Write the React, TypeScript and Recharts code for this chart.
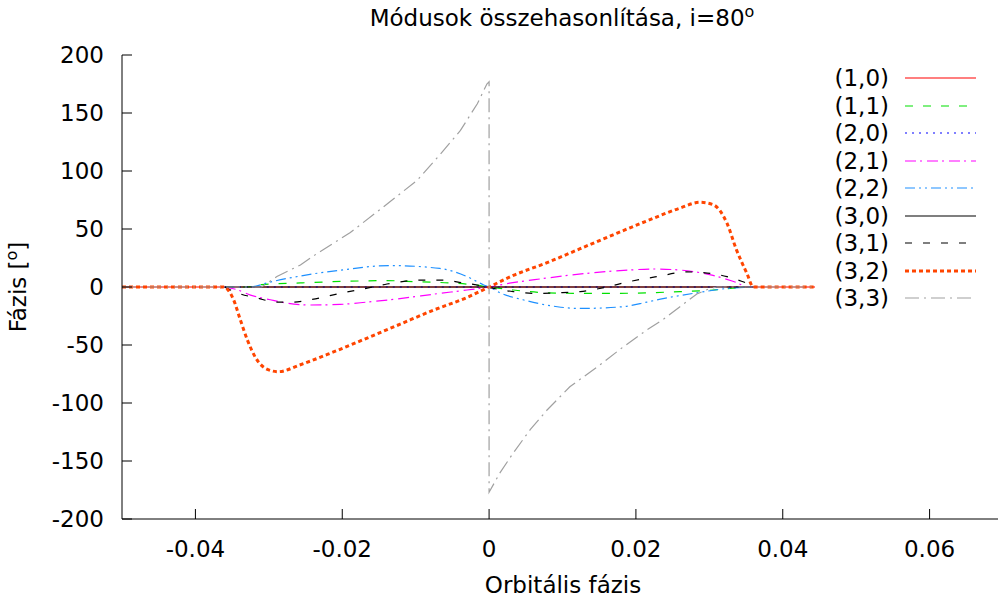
import { Line, LineChart, XAxis, YAxis } from "recharts";

const FONT = "'DejaVu Sans', sans-serif";

const X_TICKS = [-0.04, -0.02, 0, 0.02, 0.04, 0.06];
const Y_TICKS = [200, 150, 100, 50, 0, -50, -100, -150, -200];

type Pt = { x: number; y: number };
const pts = (rows: number[][]): Pt[] => rows.map(([x, y]) => ({ x, y }));

// values, x = orbital phase, y = phase in degrees
const mode10 = pts([[-0.05, 0], [0.0444, 0]]);

const mode11 = pts([
  [-0.036, 0], [-0.033, 0], [-0.031, 2], [-0.0257, 3.5], [-0.019, 5], [-0.0139, 5.5],
  [-0.0098, 4.5], [-0.0053, 3.5], [-0.0022, 2], [0, 0], [0.0033, -2.6], [0.0079, -5],
  [0.0124, -5.5], [0.0169, -5.5], [0.0215, -5], [0.026, -4], [0.0305, -2.6], [0.0332, -1],
  [0.035, 0], [0.036, 0],
]);

const mode20 = pts([[-0.036, 0], [0.036, 0]]);

const mode21 = pts([
  [-0.036, 0], [-0.0345, -2], [-0.0325, -7], [-0.0298, -11], [-0.0275, -14], [-0.0244, -15.5],
  [-0.0203, -15], [-0.0166, -13], [-0.0135, -11], [-0.0067, -5.5], [-0.003, -2.6], [0, 0],
  [0.003, 3.5], [0.007, 7], [0.0137, 12], [0.019, 14.6], [0.0225, 15.5], [0.026, 14.6],
  [0.0305, 10], [0.0332, 5], [0.0355, 0], [0.036, 0],
]);

const mode22 = pts([
  [-0.036, 0], [-0.0325, 0], [-0.03, 4], [-0.0257, 9.5], [-0.0203, 14.5], [-0.0135, 18.5],
  [-0.0067, 16], [-0.003, 9], [-0.0008, 2], [0, 0], [0.0015, -5], [0.0046, -11],
  [0.0093, -17], [0.0124, -18.5], [0.0182, -17], [0.0215, -13], [0.0237, -10], [0.0283, -5],
  [0.0328, -1], [0.036, 0],
]);

const mode30 = pts([[-0.036, 0], [0.036, 0]]);

const mode31 = pts([
  [-0.036, 0], [-0.0357, -1], [-0.0343, -5], [-0.0316, -9.5], [-0.0289, -13], [-0.0267, -13],
  [-0.0244, -11], [-0.0199, -5], [-0.0166, -1], [-0.0139, 2.6], [-0.009, 6], [-0.0063, 6],
  [-0.0035, 3.5], [-0.0016, 1.7], [0, -0.5], [0.0033, -4], [0.0065, -5.5], [0.0093, -5],
  [0.0124, -4], [0.016, 0], [0.019, 4.5], [0.0229, 9], [0.027, 13], [0.0297, 12],
  [0.0324, 9], [0.0346, 4.5], [0.0365, 0],
]);

const mode32 = pts([
  [-0.05, 0], [-0.0362, 0], [-0.0348, -11], [-0.0339, -28], [-0.0329, -46], [-0.0318, -61],
  [-0.0302, -71], [-0.0287, -73], [-0.0257, -67], [-0.0212, -56], [-0.0166, -44],
  [-0.0121, -32], [-0.0076, -20], [-0.003, -9], [0, 0], [0.0033, 10], [0.0079, 21],
  [0.0124, 33], [0.0169, 45], [0.0215, 57], [0.026, 68], [0.0287, 73], [0.0305, 71],
  [0.0324, 55], [0.0337, 32], [0.0351, 12], [0.036, 0], [0.0444, 0],
]);

const mode33 = pts([
  [-0.05, 0], [-0.031, 0], [-0.0289, 9], [-0.0257, 19], [-0.0234, 29], [-0.0189, 47],
  [-0.0144, 69], [-0.0098, 92], [-0.0067, 114], [-0.0039, 135], [-0.0016, 158],
  [-0.0003, 175], [0, 177], [0, -177], [0.0015, -160], [0.0033, -143], [0.0056, -123],
  [0.0079, -106], [0.011, -86], [0.0147, -69], [0.0182, -52], [0.0215, -37], [0.0237, -28],
  [0.026, -17], [0.0283, -6], [0.03, -1.5], [0.031, 0], [0.0444, 0],
]);

const SERIES = [
  { name: "(1,0)", data: mode10, color: "#ff0000", width: 1.2, dash: undefined },
  { name: "(1,1)", data: mode11, color: "#00e000", width: 1.2, dash: "8 10" },
  { name: "(2,0)", data: mode20, color: "#0000ff", width: 1.2, dash: "2 5" },
  { name: "(2,1)", data: mode21, color: "#ff00ff", width: 1.2, dash: "11 4 2 5" },
  { name: "(2,2)", data: mode22, color: "#1e90ff", width: 1.2, dash: "10 4 2 4 2 4" },
  { name: "(3,0)", data: mode30, color: "#000000", width: 1.2, dash: undefined },
  { name: "(3,1)", data: mode31, color: "#000000", width: 1.2, dash: "7 11" },
  { name: "(3,2)", data: mode32, color: "#ff4500", width: 3, dash: "4 3" },
  { name: "(3,3)", data: mode33, color: "#a0a0a0", width: 1.2, dash: "14 5 2 5" },
];

const TICK_LEN = 10;
const FS = 23;

function BottomTick(p: any) {
  return (
    <g>
      <line x1={p.x} y1={p.y} x2={p.x} y2={p.y - TICK_LEN} stroke="#000" />
      <text x={p.x} y={p.y + 38} textAnchor="middle" fontFamily={FONT} fontSize={FS} fill="#000">
        {String(p.payload.value)}
      </text>
    </g>
  );
}

function TopTick(p: any) {
  return <line x1={p.x} y1={p.y} x2={p.x} y2={p.y + TICK_LEN} stroke="#000" />;
}

function LeftTick(p: any) {
  return (
    <g>
      <line x1={p.x} y1={p.y} x2={p.x + TICK_LEN} y2={p.y} stroke="#000" />
      <text x={p.x - 18} y={p.y + 8} textAnchor="end" fontFamily={FONT} fontSize={FS} fill="#000">
        {String(p.payload.value)}
      </text>
    </g>
  );
}

function RightTick(p: any) {
  return <line x1={p.x} y1={p.y} x2={p.x - TICK_LEN} y2={p.y} stroke="#000" />;
}

function Overlay() {
  const rowY = (i: number) => Math.round(78 + i * 27.5);
  return (
    <svg
      width={998}
      height={601}
      style={{ position: "absolute", left: 0, top: 0, pointerEvents: "none" }}
      fontFamily={FONT}
    >
      <text x={562} y={26} textAnchor="middle" fontSize={FS} fill="#000">
        Módusok összehasonlítása, i=80
        <tspan fontSize={16} dy={-9}>o</tspan>
      </text>
      <text x={563} y={593} textAnchor="middle" fontSize={FS} fill="#000">
        Orbitális fázis
      </text>
      <text transform="translate(26,287) rotate(-90)" textAnchor="middle" fontSize={FS} fill="#000">
        Fázis [<tspan fontSize={16} dy={-9}>o</tspan><tspan dy={9}>]</tspan>
      </text>
      {SERIES.map((s, i) => (
        <g key={s.name}>
          <text x={889} y={rowY(i) + 8} textAnchor="end" fontSize={FS} fill="#000">
            {s.name}
          </text>
          <line
            x1={905}
            x2={976}
            y1={rowY(i)}
            y2={rowY(i)}
            stroke={s.color}
            strokeWidth={s.width}
            strokeDasharray={s.dash}
          />
        </g>
      ))}
    </svg>
  );
}

export default function App() {
  return (
    <div
      style={{
        position: "absolute",
        left: 0,
        top: 0,
        width: 998,
        height: 601,
        overflow: "hidden",
        background: "#fff",
      }}
    >
      <LineChart width={1012} height={601} margin={{ top: 55, right: 9, bottom: 52, left: 62 }}>
        <XAxis
          xAxisId="b"
          dataKey="x"
          type="number"
          domain={[-0.05, 0.07]}
          ticks={X_TICKS}
          allowDataOverflow
          height={30}
          tickSize={0}
          tickMargin={0}
          tickLine={false}
          axisLine={{ stroke: "#000" }}
          tick={BottomTick}
          interval={0}
        />
        <XAxis
          xAxisId="t"
          orientation="top"
          type="number"
          domain={[-0.05, 0.07]}
          ticks={X_TICKS}
          allowDataOverflow
          height={0}
          tickSize={0}
          tickMargin={0}
          tickLine={false}
          axisLine={{ stroke: "#000" }}
          tick={TopTick}
          interval={0}
        />
        <YAxis
          yAxisId="l"
          type="number"
          domain={[-200, 200]}
          ticks={Y_TICKS}
          allowDataOverflow
          width={60}
          tickSize={0}
          tickMargin={0}
          tickLine={false}
          axisLine={{ stroke: "#000" }}
          tick={LeftTick}
          interval={0}
        />
        <YAxis
          yAxisId="r"
          orientation="right"
          type="number"
          domain={[-200, 200]}
          ticks={Y_TICKS}
          allowDataOverflow
          width={0}
          tickSize={0}
          tickMargin={0}
          tickLine={false}
          axisLine={{ stroke: "#000" }}
          tick={RightTick}
          interval={0}
        />
        {SERIES.map((s) => (
          <Line
            key={s.name}
            xAxisId="b"
            yAxisId="l"
            data={s.data}
            dataKey="y"
            name={s.name}
            type={s.name === "(3,3)" ? "linear" : "monotone"}
            stroke={s.color}
            strokeWidth={s.width}
            strokeDasharray={s.dash}
            dot={false}
            activeDot={false}
            isAnimationActive={false}
          />
        ))}
      </LineChart>
      <Overlay />
    </div>
  );
}
